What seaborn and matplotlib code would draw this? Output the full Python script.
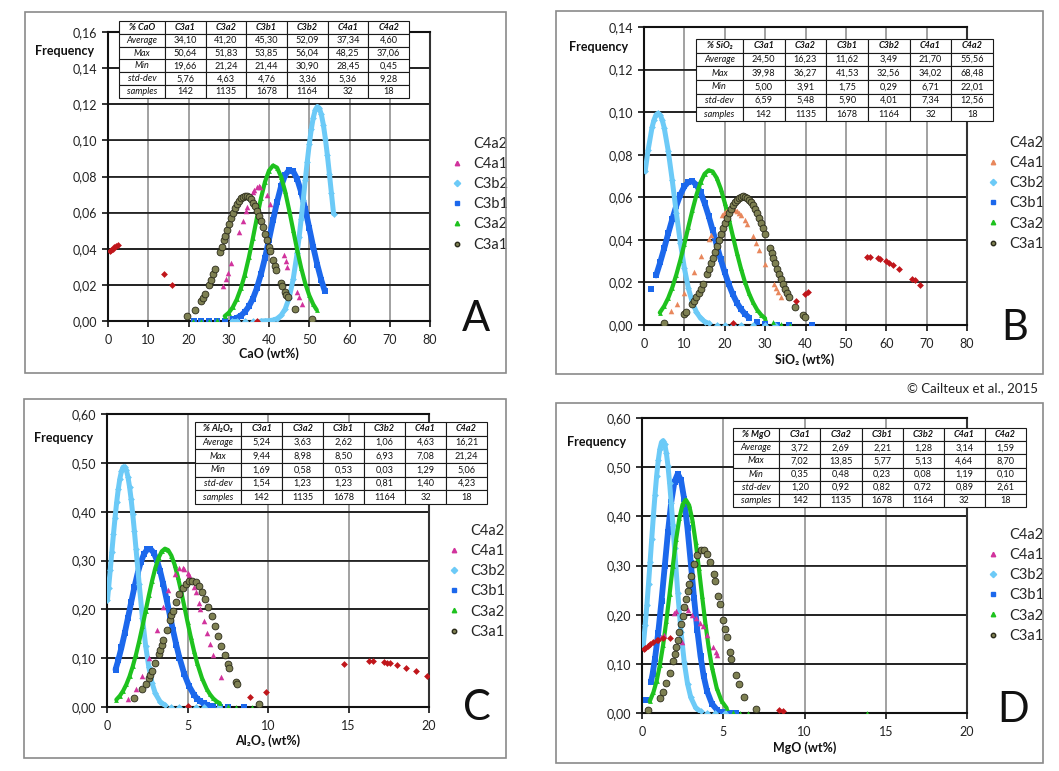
import numpy as np
import pandas as pd
import matplotlib
matplotlib.use("Agg")
import matplotlib.pyplot as plt
import seaborn as sns
from matplotlib.lines import Line2D
from matplotlib.patches import Rectangle

# ---------------- data ----------------
columns = ["C3a1", "C3a2", "C3b1", "C3b2", "C4a1", "C4a2"]
row_names = ["Average", "Max", "Min", "std-dev", "samples"]
samples = [142, 1135, 1678, 1164, 32, 18]

# Panel A : CaO
A_avg = [34.10, 41.20, 45.30, 52.09, 37.34, 4.60]
A_max = [50.64, 51.83, 53.85, 56.04, 48.25, 37.06]
A_min = [19.66, 21.24, 21.44, 30.90, 28.45, 0.45]
A_std = [5.76, 4.63, 4.76, 3.36, 5.36, 9.28]

A_C4a2_x = [0.45, 0.8, 1.2, 1.6, 2.0, 2.4, 14.0, 16.0, 37.06]
A_C4a2_y = [0.0389, 0.0395, 0.0401, 0.0407, 0.0413, 0.0418, 0.0258, 0.0202, 0.0001]
A_C4a1_x = [28.6, 29.4, 29.8, 30.5, 32.6, 33.5, 34.2, 34.5, 36.0, 36.3, 36.9, 37.4, 37.7, 39.4, 40.2, 43.7, 44.1, 44.5, 46.9, 47.4, 48.3]
A_C4a1_y = [0.0194, 0.0231, 0.0264, 0.0323, 0.0490, 0.0554, 0.0610, 0.0630, 0.0715, 0.0725, 0.0740, 0.0745, 0.0742, 0.0698, 0.0649, 0.0366, 0.0334, 0.0300, 0.0159, 0.0135, 0.0094]
A_C3b2_x = [30.9, 32, 34, 36, 38, 39, 40, 41, 42, 43, 44, 45, 46, 47, 47.5, 48, 48.5, 49, 49.5, 50, 50.5, 51, 51.5, 52, 52.5, 53, 53.5, 54, 54.5, 55, 55.5, 56.04]
A_C3b2_y = [0.0, 0.0, 0.0, 0.0, 0.0, 0.0001, 0.0002, 0.0005, 0.0013, 0.0031, 0.0065, 0.0128, 0.0230, 0.0377, 0.0467, 0.0566, 0.0671, 0.0778, 0.0882, 0.0978, 0.1061, 0.1126, 0.1169, 0.1187, 0.1178, 0.1144, 0.1087, 0.1010, 0.0918, 0.0816, 0.0709, 0.0595]
A_C3b1_x = [21.44, 23, 25, 27, 29, 31, 32, 33, 34, 35, 36, 37, 38, 39, 40, 41, 42, 43, 44, 45, 46, 47, 48, 49, 50, 51, 52, 53, 53.85]
A_C3b1_y = [0.0, 0.0, 0.0, 0.0001, 0.0002, 0.0009, 0.0017, 0.0030, 0.0050, 0.0081, 0.0124, 0.0183, 0.0259, 0.0349, 0.0451, 0.0557, 0.0659, 0.0746, 0.0807, 0.0836, 0.0829, 0.0786, 0.0713, 0.0620, 0.0515, 0.0409, 0.0311, 0.0226, 0.0167]
A_C3a2_x = [21.24, 23, 25, 27, 29, 30, 31, 32, 33, 34, 35, 36, 37, 38, 39, 40, 41, 42, 43, 44, 45, 46, 47, 48, 49, 50, 51, 51.83]
A_C3a2_y = [0.0, 0.0, 0.0002, 0.0008, 0.0027, 0.0046, 0.0076, 0.0120, 0.0180, 0.0257, 0.0352, 0.0459, 0.0572, 0.0679, 0.0770, 0.0833, 0.0861, 0.0849, 0.0799, 0.0718, 0.0615, 0.0504, 0.0393, 0.0293, 0.0208, 0.0142, 0.0092, 0.0062]
A_C3a1_x = [19.66, 21.5, 23.0, 23.5, 24.0, 25.0, 25.5, 26.0, 26.5, 27.8, 28.2, 28.7, 29.0, 29.5, 30.0, 30.5, 31.0, 31.5, 32.0, 32.5, 33.0, 33.5, 34.0, 34.5, 35.0, 35.5, 36.0, 36.5, 37.0, 37.5, 38.0, 38.5, 39.0, 39.5, 40.0, 40.3, 41.0, 41.5, 41.8, 43.0, 43.3, 44.0, 44.3, 44.6, 46.5, 50.64]
A_C3a1_y = [0.0030, 0.0063, 0.0108, 0.0127, 0.0149, 0.0199, 0.0227, 0.0258, 0.0290, 0.0381, 0.0410, 0.0447, 0.0468, 0.0504, 0.0538, 0.0570, 0.0599, 0.0626, 0.0648, 0.0667, 0.0680, 0.0689, 0.0693, 0.0691, 0.0685, 0.0673, 0.0656, 0.0635, 0.0611, 0.0582, 0.0551, 0.0518, 0.0482, 0.0447, 0.0410, 0.0388, 0.0338, 0.0304, 0.0283, 0.0210, 0.0193, 0.0158, 0.0145, 0.0132, 0.0068, 0.0011]

# Panel B : SiO2
B_avg = [24.50, 16.23, 11.62, 3.49, 21.70, 55.56]
B_max = [39.98, 36.27, 41.53, 32.56, 34.02, 68.48]
B_min = [5.00, 3.91, 1.75, 0.29, 6.71, 22.01]
B_std = [6.59, 5.48, 5.90, 4.01, 7.34, 12.56]

B_C4a2_x = [22.01, 37.6, 39.8, 40.5, 55.3, 55.9, 57.9, 58.4, 59.9, 60.8, 61.7, 63.2, 66.5, 67.0, 68.48]
B_C4a2_y = [0.0009, 0.0114, 0.0145, 0.0155, 0.0318, 0.0318, 0.0313, 0.0310, 0.0300, 0.0292, 0.0282, 0.0264, 0.0218, 0.0210, 0.0187]
B_C4a1_x = [6.71, 8.2, 10.0, 12.5, 14.2, 16.0, 16.5, 19.3, 19.7, 20.3, 22.5, 23.0, 23.5, 24.0, 25.0, 25.5, 27.0, 27.8, 28.5, 30.0, 32.3, 32.8, 33.3, 34.02]
B_C4a1_y = [0.0068, 0.0100, 0.0152, 0.0248, 0.0323, 0.0402, 0.0423, 0.0516, 0.0524, 0.0534, 0.0541, 0.0536, 0.0528, 0.0518, 0.0492, 0.0476, 0.0419, 0.0385, 0.0354, 0.0287, 0.0192, 0.0173, 0.0156, 0.0133]
B_C3b2_x = [0.29, 1, 2, 2.5, 3, 3.5, 4, 4.5, 5, 6, 7, 8, 9, 10, 11, 12, 13, 14, 15, 16, 18, 20, 22, 24, 27, 30, 32.56]
B_C3b2_y = [0.0724, 0.0820, 0.0929, 0.0965, 0.0988, 0.0995, 0.0987, 0.0964, 0.0927, 0.0818, 0.0679, 0.0528, 0.0387, 0.0267, 0.0172, 0.0105, 0.0060, 0.0032, 0.0016, 0.0008, 0.0001, 0.0, 0.0, 0.0, 0.0, 0.0, 0.0]
B_C3b1_x = [1.75, 3, 4, 5, 6, 7, 8, 9, 10, 11, 12, 13, 14, 15, 16, 17, 18, 19, 20, 21, 22, 23, 24, 25, 26, 28, 30, 33, 36, 41.53]
B_C3b1_y = [0.0167, 0.0233, 0.0294, 0.0360, 0.0430, 0.0497, 0.0560, 0.0612, 0.0651, 0.0672, 0.0675, 0.0658, 0.0623, 0.0573, 0.0513, 0.0446, 0.0376, 0.0309, 0.0247, 0.0191, 0.0144, 0.0105, 0.0075, 0.0052, 0.0035, 0.0014, 0.0005, 0.0001, 0.0, 0.0]
B_C3a2_x = [3.91, 5, 6, 7, 8, 9, 10, 11, 12, 13, 14, 15, 16, 17, 18, 19, 20, 21, 22, 23, 24, 25, 26, 27, 28, 29, 30, 32, 34, 36.27]
B_C3a2_y = [0.0058, 0.0089, 0.0127, 0.0176, 0.0236, 0.0305, 0.0381, 0.0462, 0.0540, 0.0612, 0.0670, 0.0710, 0.0727, 0.0721, 0.0691, 0.0641, 0.0574, 0.0499, 0.0418, 0.0339, 0.0266, 0.0202, 0.0149, 0.0106, 0.0072, 0.0048, 0.0031, 0.0012, 0.0004, 0.0001]
B_C3a1_x = [5.0, 10.0, 10.5, 12.0, 12.5, 13.0, 13.5, 14.0, 14.5, 15.5, 16.0, 16.5, 17.0, 17.5, 18.0, 18.5, 19.0, 19.5, 20.0, 20.5, 21.0, 21.5, 22.0, 22.5, 23.0, 23.5, 24.0, 24.5, 25.0, 25.5, 26.0, 26.5, 27.0, 27.5, 28.0, 28.5, 29.0, 29.5, 30.0, 31.2, 31.6, 32.0, 32.5, 33.0, 33.5, 34.0, 34.5, 35.0, 35.5, 36.0, 37.5, 39.5, 39.98]
B_C3a1_y = [0.0008, 0.0054, 0.0063, 0.0100, 0.0115, 0.0132, 0.0150, 0.0170, 0.0191, 0.0238, 0.0263, 0.0289, 0.0317, 0.0344, 0.0372, 0.0400, 0.0427, 0.0454, 0.0479, 0.0503, 0.0525, 0.0545, 0.0563, 0.0578, 0.0589, 0.0598, 0.0603, 0.0605, 0.0603, 0.0598, 0.0589, 0.0578, 0.0563, 0.0545, 0.0525, 0.0503, 0.0479, 0.0454, 0.0427, 0.0361, 0.0339, 0.0317, 0.0289, 0.0263, 0.0238, 0.0214, 0.0191, 0.0170, 0.0150, 0.0132, 0.0086, 0.0045, 0.0038]

# Panel C : Al2O3
C_avg = [5.24, 3.63, 2.62, 1.06, 4.63, 16.21]
C_max = [9.44, 8.98, 8.50, 6.93, 7.08, 21.24]
C_min = [1.69, 0.58, 0.53, 0.03, 1.29, 5.06]
C_std = [1.54, 1.23, 1.23, 0.81, 1.40, 4.23]

C_C4a2_x = [5.06, 8.9, 9.9, 14.7, 16.3, 16.5, 17.2, 17.4, 17.6, 18.0, 18.6, 19.2, 19.9]
C_C4a2_y = [0.0029, 0.0212, 0.0310, 0.0885, 0.0943, 0.0941, 0.0918, 0.0907, 0.0893, 0.0862, 0.0804, 0.0735, 0.0645]
C_C4a1_x = [1.29, 1.8, 2.2, 2.6, 3.1, 3.5, 3.8, 4.2, 4.5, 4.7, 4.8, 5.0, 5.1, 5.4, 5.5, 5.7, 5.8, 6.0, 6.2, 6.4, 6.6, 7.08]
C_C4a1_y = [0.0165, 0.0370, 0.0631, 0.0996, 0.1569, 0.2057, 0.2390, 0.2719, 0.2838, 0.2847, 0.2829, 0.2752, 0.2694, 0.2450, 0.2350, 0.2128, 0.2009, 0.1765, 0.1519, 0.1283, 0.1058, 0.0616]
C_C3b2_x = [0.03, 0.1, 0.2, 0.3, 0.4, 0.5, 0.6, 0.7, 0.8, 0.9, 1.0, 1.1, 1.2, 1.3, 1.4, 1.5, 1.6, 1.7, 1.8, 2.0, 2.2, 2.4, 2.6, 2.8, 3.0, 3.3, 3.6, 4.0, 4.5, 5.0, 5.5, 6.0, 6.93]
C_C3b2_y = [0.2193, 0.2440, 0.2801, 0.3172, 0.3533, 0.3878, 0.4191, 0.4462, 0.4678, 0.4830, 0.4912, 0.4919, 0.4852, 0.4714, 0.4509, 0.4250, 0.3943, 0.3605, 0.3244, 0.2514, 0.1828, 0.1254, 0.0809, 0.0490, 0.0279, 0.0108, 0.0036, 0.0007, 0.0001, 0.0, 0.0, 0.0, 0.0]
C_C3b1_x = [0.53, 0.7, 0.9, 1.1, 1.3, 1.5, 1.7, 1.9, 2.1, 2.3, 2.5, 2.7, 2.9, 3.1, 3.3, 3.5, 3.7, 3.9, 4.1, 4.3, 4.5, 4.8, 5.1, 5.4, 5.6, 5.8, 6.0, 6.2, 6.6, 7.0, 7.5, 8.5]
C_C3b1_y = [0.0766, 0.0959, 0.1220, 0.1511, 0.1823, 0.2142, 0.2452, 0.2733, 0.2965, 0.3135, 0.3228, 0.3236, 0.3160, 0.3005, 0.2783, 0.2511, 0.2205, 0.1888, 0.1572, 0.1276, 0.1009, 0.0675, 0.0425, 0.0252, 0.0172, 0.0115, 0.0074, 0.0047, 0.0017, 0.0006, 0.0001, 0.0]
C_C3a2_x = [0.58, 0.8, 1.0, 1.2, 1.4, 1.6, 1.8, 2.0, 2.2, 2.4, 2.6, 2.8, 3.0, 3.2, 3.4, 3.6, 3.8, 4.0, 4.2, 4.4, 4.6, 4.8, 5.0, 5.2, 5.4, 5.6, 5.9, 6.2, 6.4, 6.6, 6.8, 7.0, 7.5, 8.0, 8.98]
C_C3a2_y = [0.0150, 0.0230, 0.0330, 0.0461, 0.0627, 0.0832, 0.1072, 0.1347, 0.1649, 0.1967, 0.2285, 0.2582, 0.2845, 0.3050, 0.3187, 0.3242, 0.3212, 0.3099, 0.2914, 0.2666, 0.2376, 0.2064, 0.1743, 0.1436, 0.1151, 0.0899, 0.0590, 0.0365, 0.0257, 0.0175, 0.0117, 0.0076, 0.0023, 0.0006, 0.0]
C_C3a1_x = [1.69, 2.2, 2.4, 2.6, 2.7, 2.8, 3.0, 3.2, 3.3, 3.4, 3.5, 3.7, 3.9, 4.0, 4.1, 4.3, 4.5, 4.7, 4.9, 5.1, 5.3, 5.5, 5.7, 5.9, 6.1, 6.3, 6.5, 6.7, 6.9, 7.1, 7.3, 7.5, 7.6, 8.0, 8.1, 9.44]
C_C3a1_y = [0.0182, 0.0369, 0.0473, 0.0596, 0.0665, 0.0739, 0.0900, 0.1077, 0.1172, 0.1269, 0.1368, 0.1571, 0.1775, 0.1874, 0.1970, 0.2151, 0.2308, 0.2436, 0.2529, 0.2580, 0.2589, 0.2554, 0.2478, 0.2363, 0.2217, 0.2045, 0.1854, 0.1654, 0.1448, 0.1249, 0.1059, 0.0881, 0.0801, 0.0520, 0.0462, 0.0063]

# Panel D : MgO
D_avg = [3.72, 2.69, 2.21, 1.28, 3.14, 1.59]
D_max = [7.02, 13.85, 5.77, 5.13, 4.64, 8.70]
D_min = [0.35, 0.48, 0.23, 0.08, 1.19, 0.10]
D_std = [1.20, 0.92, 0.82, 0.72, 0.89, 2.61]

D_C4a2_x = [0.10, 0.2, 0.35, 0.5, 0.7, 0.9, 1.0, 1.3, 1.7, 8.4, 8.7]
D_C4a2_y = [0.1299, 0.1327, 0.1366, 0.1401, 0.1443, 0.1477, 0.1490, 0.1520, 0.1528, 0.0051, 0.0037]
D_C4a1_x = [1.19, 1.33, 1.94, 2.1, 2.45, 2.55, 2.7, 2.86, 3.1, 3.3, 3.57, 3.75, 4.0, 4.35, 4.54, 4.64]
D_C4a1_y = [0.155, 0.159, 0.204, 0.207, 0.144, 0.216, 0.215, 0.209, 0.200, 0.193, 0.183, 0.176, 0.159, 0.135, 0.125, 0.117]
D_C3b2_x = [0.08, 0.2, 0.3, 0.4, 0.5, 0.6, 0.7, 0.8, 0.9, 1.0, 1.1, 1.2, 1.3, 1.4, 1.5, 1.6, 1.7, 1.8, 1.9, 2.0, 2.2, 2.4, 2.6, 2.8, 3.0, 3.3, 3.6, 4.0, 4.5, 5.13]
D_C3b2_y = [0.1381, 0.1799, 0.2195, 0.2625, 0.3081, 0.3549, 0.4006, 0.4435, 0.4821, 0.5137, 0.5370, 0.5507, 0.5539, 0.5465, 0.5288, 0.5021, 0.4674, 0.4269, 0.3825, 0.3361, 0.2449, 0.1652, 0.1033, 0.0597, 0.0319, 0.0108, 0.0031, 0.0004, 0.0, 0.0]
D_C3b1_x = [0.23, 0.55, 0.65, 0.8, 1.0, 1.2, 1.4, 1.6, 1.8, 2.0, 2.2, 2.4, 2.6, 2.8, 3.0, 3.2, 3.4, 3.6, 3.8, 4.0, 4.3, 4.6, 5.0, 5.4, 5.77]
D_C3b1_y = [0.0263, 0.0627, 0.0792, 0.1107, 0.1636, 0.2279, 0.2986, 0.3689, 0.4293, 0.4708, 0.4865, 0.4736, 0.4345, 0.3755, 0.3059, 0.2347, 0.1697, 0.1156, 0.0743, 0.0449, 0.0189, 0.0070, 0.0015, 0.0002, 0.0]
D_C3a2_x = [0.48, 0.7, 0.9, 1.1, 1.3, 1.5, 1.7, 1.9, 2.1, 2.3, 2.5, 2.7, 2.9, 3.1, 3.3, 3.5, 3.7, 3.9, 4.1, 4.3, 4.6, 4.9, 5.2, 5.6, 6.0, 6.5, 13.85]
D_C3a2_y = [0.0242, 0.0418, 0.0653, 0.0974, 0.1384, 0.1879, 0.2429, 0.2998, 0.3531, 0.3964, 0.4244, 0.4336, 0.4225, 0.3926, 0.3481, 0.2942, 0.2374, 0.1826, 0.1342, 0.0938, 0.0503, 0.0242, 0.0105, 0.0029, 0.0007, 0.0001, 0.0]
D_C3a1_x = [0.35, 1.1, 1.3, 1.5, 1.7, 1.9, 2.0, 2.1, 2.2, 2.3, 2.4, 2.5, 2.6, 2.7, 2.8, 2.9, 3.0, 3.2, 3.4, 3.6, 3.8, 4.0, 4.2, 4.4, 4.5, 4.7, 4.8, 5.0, 5.1, 5.2, 5.4, 5.5, 5.77, 5.96, 6.3, 7.02]
D_C3a1_y = [0.0064, 0.0307, 0.0436, 0.0601, 0.0807, 0.1052, 0.1191, 0.1337, 0.1491, 0.1651, 0.1816, 0.1981, 0.2152, 0.2317, 0.2478, 0.2633, 0.2777, 0.3027, 0.3209, 0.3308, 0.3318, 0.3236, 0.3069, 0.2832, 0.2692, 0.2381, 0.2218, 0.1882, 0.1717, 0.1555, 0.1248, 0.1107, 0.0773, 0.0582, 0.0330, 0.0076]

# ---------------- styling ----------------
W, H = 1059, 771
sns.set_style("white")
plt.rcParams['font.family'] = ['Lato', 'DejaVu Sans']

STY = {
    "C3b1": dict(color="#1c68ec", marker="s", s=14, ec="none", lw=4.2, dense=True, z=3),
    "C3b2": dict(color="#6ccaf7", marker="D", s=12, ec="none", lw=3.6, dense=True, z=4),
    "C3a2": dict(color="#1ec21e", marker="^", s=12, ec="none", lw=3.0, dense=True, z=5),
    "C4a1": dict(color="#d1339d", marker="^", s=16, ec="none", lw=0, dense=False, z=6),
    "C3a1": dict(color="#7e8052", marker="o", s=24, ec="#2a2a1a", lw=0, dense=False, z=7),
    "C4a2": dict(color="#c0161b", marker="D", s=12, ec="none", lw=0, dense=False, z=8),
}
legend_order = ["C4a2", "C4a1", "C3b2", "C3b1", "C3a2", "C3a1"]
draw_order = ["C3b1", "C3b2", "C3a2", "C4a1", "C3a1", "C4a2"]


def fx(x):
    return x / W


def fy(y):
    return 1 - y / H


def plot_series(ax, name, xs, ys, thr, color=None):
    st = STY[name]
    c = color or st["color"]
    df = pd.DataFrame({"x": xs, "y": ys})
    if st["dense"]:
        seg = (df["x"].diff() > thr).cumsum()
        for _, g in df.groupby(seg):
            if len(g) > 1:
                sns.lineplot(data=g, x="x", y="y", ax=ax, color=c, lw=st["lw"], sort=False,
                             estimator=None, solid_capstyle="round", zorder=st["z"], legend=False)
    ec = st["ec"] if st["ec"] != "none" else c
    sns.scatterplot(data=df, x="x", y="y", ax=ax, marker=st["marker"], s=st["s"], color=c,
                    edgecolor=ec, linewidth=0.6 if name == "C3a1" else 0, zorder=st["z"], legend=False,
                    clip_on=True)


def fmt(v):
    return f"{v:.2f}".replace(".", ",")


def draw_table(fig, box, header, avg, mx, mn, sd):
    l, t, r, b = box
    tax = fig.add_axes([fx(l), fy(b), (r - l) / W, (b - t) / H])
    tax.set_zorder(20)
    tax.axis("off")
    cells = [[fmt(v) for v in avg], [fmt(v) for v in mx], [fmt(v) for v in mn],
             [fmt(v) for v in sd], [str(v) for v in samples]]
    cells = [[row_names[i]] + cells[i] for i in range(5)]
    w0 = 0.158
    widths = [w0] + [(1 - w0) / 6] * 6
    tbl = tax.table(cellText=cells, colLabels=[header] + columns, colWidths=widths,
                    cellLoc="center", bbox=[0, 0, 1, 1])
    tbl.auto_set_font_size(False)
    tbl.set_fontsize(6.6)
    for (ri, ci), cell in tbl.get_celld().items():
        cell.set_linewidth(0.8)
        cell.set_edgecolor("#1a1a1a")
        cell.set_facecolor("white")
        txt = cell.get_text()
        txt.set_color("#111111")
        if ri == 0:
            txt.set_fontweight("bold")
            txt.set_fontstyle("italic")
        elif ci == 0:
            txt.set_fontstyle("italic")


fig = plt.figure(figsize=(W / 100, H / 100), dpi=100)

panels = [
    dict(key="A", axes=(108, 32, 430, 321), frame=(25, 12, 506, 373), xlim=(0, 80), xt=[0, 10, 20, 30, 40, 50, 60, 70, 80],
         ylim=(0, 0.16), yt=[0.0, 0.02, 0.04, 0.06, 0.08, 0.10, 0.12, 0.14, 0.16], xlabel="CaO (wt%)", xl=(269, 354), freq=(35, 51),
         letter=(476, 319), table=(119, 21, 409, 98), theader="% CaO", stats=(A_avg, A_max, A_min, A_std),
         leg=(451, 137), c4a1=None,
         data={"C4a2": (A_C4a2_x, A_C4a2_y), "C4a1": (A_C4a1_x, A_C4a1_y), "C3b2": (A_C3b2_x, A_C3b2_y),
               "C3b1": (A_C3b1_x, A_C3b1_y), "C3a2": (A_C3a2_x, A_C3a2_y), "C3a1": (A_C3a1_x, A_C3a1_y)}),
    dict(key="B", axes=(644, 27, 967, 325), frame=(556, 11, 1043, 374), xlim=(0, 80), xt=[0, 10, 20, 30, 40, 50, 60, 70, 80],
         ylim=(0, 0.14), yt=[0.0, 0.02, 0.04, 0.06, 0.08, 0.10, 0.12, 0.14], xlabel="SiO\u2082 (wt%)", xl=(805, 360), freq=(569, 47),
         letter=(1015, 328), table=(696, 39, 993, 121), theader="% SiO\u2082", stats=(B_avg, B_max, B_min, B_std),
         leg=(987, 136), c4a1="#e8875c",
         data={"C4a2": (B_C4a2_x, B_C4a2_y), "C4a1": (B_C4a1_x, B_C4a1_y), "C3b2": (B_C3b2_x, B_C3b2_y),
               "C3b1": (B_C3b1_x, B_C3b1_y), "C3a2": (B_C3a2_x, B_C3a2_y), "C3a1": (B_C3a1_x, B_C3a1_y)}),
    dict(key="C", axes=(107, 414, 429, 707), frame=(24, 399, 506, 758), xlim=(0, 20), xt=[0, 5, 10, 15, 20],
         ylim=(0, 0.60), yt=[0.0, 0.1, 0.2, 0.3, 0.4, 0.5, 0.6], xlabel="Al\u2082O\u2083 (wt%)", xl=(268, 741), freq=(34, 438),
         letter=(477, 708), table=(195, 422, 487, 504), theader="% Al\u2082O\u2083", stats=(C_avg, C_max, C_min, C_std),
         leg=(448, 524), c4a1=None,
         data={"C4a2": (C_C4a2_x, C_C4a2_y), "C4a1": (C_C4a1_x, C_C4a1_y), "C3b2": (C_C3b2_x, C_C3b2_y),
               "C3b1": (C_C3b1_x, C_C3b1_y), "C3a2": (C_C3a2_x, C_C3a2_y), "C3a1": (C_C3a1_x, C_C3a1_y)}),
    dict(key="D", axes=(642, 418, 967, 713), frame=(556, 403, 1043, 763), xlim=(0, 20), xt=[0, 5, 10, 15, 20],
         ylim=(0, 0.60), yt=[0.0, 0.1, 0.2, 0.3, 0.4, 0.5, 0.6], xlabel="MgO (wt%)", xl=(805, 748), freq=(567, 442),
         letter=(1013, 710), table=(733, 428, 1026, 507), theader="% MgO", stats=(D_avg, D_max, D_min, D_std),
         leg=(987, 528), c4a1=None,
         data={"C4a2": (D_C4a2_x, D_C4a2_y), "C4a1": (D_C4a1_x, D_C4a1_y), "C3b2": (D_C3b2_x, D_C3b2_y),
               "C3b1": (D_C3b1_x, D_C3b1_y), "C3a2": (D_C3a2_x, D_C3a2_y), "C3a1": (D_C3a1_x, D_C3a1_y)}),
]

for p in panels:
    l, t, r, b = p["axes"]
    rect = [fx(l), fy(b), (r - l) / W, (b - t) / H]
    ax = fig.add_axes(rect)
    ax.set_xlim(*p["xlim"])
    ax.set_ylim(*p["ylim"])
    # grid: vertical grey lines, horizontal dark bands drawn as thin patches
    half = (p["ylim"][1] - p["ylim"][0]) / (b - t) * 0.85
    for v in p["yt"][1:-1]:
        ax.axhspan(v - half, v + half, facecolor="#262626", edgecolor="none", lw=0, zorder=1.5)
        ax.plot(list(p["xlim"]), [v, v], color="#262626", lw=1.3, zorder=1.5, solid_capstyle="butt")
    for v in p["xt"][1:-1]:
        ax.plot([v, v], list(p["ylim"]), color="#9a9a9a", lw=1.3, zorder=1.4, solid_capstyle="butt")
    thr = 0.0155 * (p["xlim"][1] - p["xlim"][0])
    for name in draw_order:
        xs, ys = p["data"][name]
        col = p["c4a1"] if (name == "C4a1" and p["c4a1"]) else None
        plot_series(ax, name, xs, ys, thr, color=col)
    ax.set_xlim(*p["xlim"])
    ax.set_ylim(*p["ylim"])
    ax.set_xticks(p["xt"])
    ax.set_xticklabels([str(int(v)) for v in p["xt"]])
    ax.set_yticks(p["yt"])
    ax.set_yticklabels([fmt(v) for v in p["yt"]])
    ax.set_xlabel("")
    ax.set_ylabel("")
    for sp in ax.spines.values():
        sp.set_visible(True)
        sp.set_color("#111111")
        sp.set_linewidth(1.5)
    ax.spines["right"].set_color("#333333")
    ax.tick_params(axis="both", direction="out", length=4, width=1.2, colors="#111111",
                   left=True, bottom=True, labelsize=9, labelcolor="#222222", pad=4)
    ax.tick_params(axis="x", pad=5)
    # texts
    fig.text(fx(p["freq"][0]), fy(p["freq"][1]), "Frequency", fontsize=9, fontweight="bold",
             ha="left", va="center", color="#111111")
    fig.text(fx(p["xl"][0]), fy(p["xl"][1]), p["xlabel"], fontsize=9, fontweight="bold",
             ha="center", va="center", color="#111111")
    fig.text(fx(p["letter"][0]), fy(p["letter"][1]), p["key"], fontsize=30,
             ha="center", va="center", color="#111111")
    # frame
    fl, ft, fr, fb = p["frame"]
    fig.patches.append(Rectangle((fx(fl), fy(fb)), (fr - fl) / W, (fb - ft) / H, fill=False,
                                 edgecolor="#8a8a8a", lw=1.2, transform=fig.transFigure, figure=fig))
    # legend
    handles = []
    for name in legend_order:
        st = STY[name]
        c = p["c4a1"] if (name == "C4a1" and p["c4a1"]) else st["color"]
        if name == "C4a2":
            h = Line2D([0], [0], ls="none", marker="None", label=name)
        else:
            h = Line2D([0], [0], ls="none", marker=st["marker"], markersize=3.2, color=c,
                       markeredgecolor=st["ec"] if st["ec"] != "none" else c, label=name)
        handles.append(h)
    ax.legend(handles=handles, loc="upper left", bbox_to_anchor=(fx(p["leg"][0]), fy(p["leg"][1])),
              bbox_transform=fig.transFigure, frameon=False, fontsize=10.5, handlelength=0.8,
              handletextpad=0.7, labelspacing=0.42, borderpad=0, borderaxespad=0)
    draw_table(fig, p["table"], p["theader"], *p["stats"])

fig.text(fx(1038), fy(388), "\u00a9 Cailteux et al., 2015", fontsize=9.5, ha="right", va="center",
         color="#222222")

fig.savefig("out.png", dpi=100, facecolor="white")
